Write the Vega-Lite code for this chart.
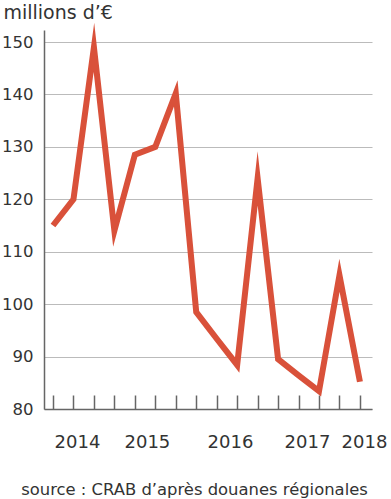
{
  "$schema": "https://vega.github.io/schema/vega-lite/v6.json",
  "width": 328,
  "height": 379,
  "autosize": {"type": "none"},
  "padding": {"left": 44, "top": 30, "right": 19, "bottom": 90},
  "background": "white",
  "config": {"view": {"stroke": null}, "font": "DejaVu Sans"},
  "data": {"values": [
    {"q": 1, "v": 115},
    {"q": 2, "v": 120},
    {"q": 3, "v": 149},
    {"q": 4, "v": 114},
    {"q": 5, "v": 128.5},
    {"q": 6, "v": 130},
    {"q": 7, "v": 140.2},
    {"q": 8, "v": 98.5},
    {"q": 9, "v": 93.4},
    {"q": 10, "v": 88.4},
    {"q": 11, "v": 124},
    {"q": 12, "v": 89.5},
    {"q": 13, "v": 86.4},
    {"q": 14, "v": 83.4},
    {"q": 15, "v": 105.5},
    {"q": 16, "v": 85.2}
  ]},
  "layer": [
    {
      "mark": {"type": "line", "color": "#d9513a", "strokeWidth": 6, "strokeJoin": "miter", "strokeMiterLimit": 20},
      "encoding": {
        "x": {
          "field": "q", "type": "quantitative",
          "scale": {"domain": [0.56, 16.59], "nice": false, "zero": false},
          "axis": {
            "orient": "bottom",
            "values": [1, 2, 3, 4, 5, 6, 7, 8, 9, 10, 11, 12, 13, 14, 15, 16],
            "labels": false, "grid": false,
            "tickSize": -14, "tickColor": "#666", "tickWidth": 1.5,
            "domainColor": "#666", "domainWidth": 1.5,
            "title": "source : CRAB d’après douanes régionales",
            "titleFontSize": 16.4, "titleFontWeight": "normal", "titleColor": "#333",
            "titleX": 150, "titleY": 85, "titleAlign": "center", "titleBaseline": "alphabetic"
          }
        },
        "y": {
          "field": "v", "type": "quantitative",
          "scale": {"domain": [80, 152.3], "nice": false, "zero": false},
          "axis": {
            "values": [80, 90, 100, 110, 120, 130, 140, 150],
            "title": "millions d’€", "titleAngle": 0, "titleX": -41, "titleY": -12,
            "titleAlign": "left", "titleBaseline": "alphabetic",
            "titleFontSize": 19, "titleFontWeight": "normal", "titleColor": "#333",
            "ticks": false, "labelPadding": 11, "labelFontSize": 16.5, "labelColor": "#333",
            "domainColor": "#666", "domainWidth": 1.5,
            "gridColor": "#bbb", "gridWidth": 1.2
          }
        }
      }
    },
    {
      "mark": {"type": "point", "opacity": 0},
      "encoding": {
        "x": {
          "field": "q", "type": "quantitative",
          "axis": {
            "orient": "bottom",
            "values": [2.17, 5.59, 9.65, 13.41, 16.2],
            "labelExpr": "datum.value < 3 ? '2014' : datum.value < 7 ? '2015' : datum.value < 11 ? '2016' : datum.value < 15 ? '2017' : '2018'",
            "ticks": false, "tickSize": 0, "domain": false, "grid": false,
            "labelFontSize": 18, "labelColor": "#333", "labelPadding": 38,
            "labelBaseline": "alphabetic", "labelOverlap": false, "labelFlush": false,
            "title": null
          }
        },
        "y": {"field": "v", "type": "quantitative"}
      }
    }
  ],
  "resolve": {"axis": {"x": "independent"}}
}
